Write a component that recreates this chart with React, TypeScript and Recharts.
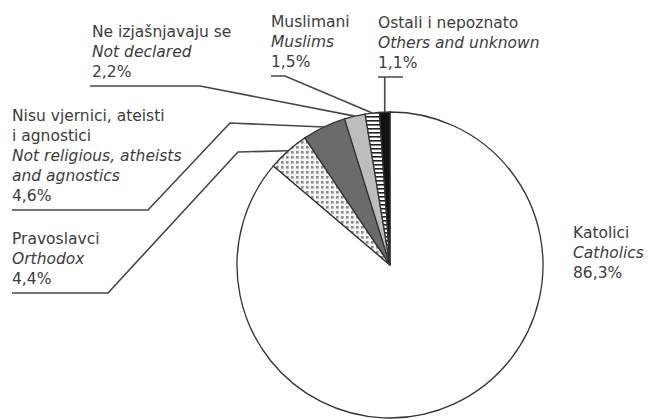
import { Cell, Pie, PieChart } from "recharts";

// Religion structure (share of population, %)
const categories = [
  "Katolici",
  "Pravoslavci",
  "Nisu vjernici, ateisti\ni agnostici",
  "Ne izjašnjavaju se",
  "Muslimani",
  "Ostali i nepoznato",
];
const categoriesEn = [
  "Catholics",
  "Orthodox",
  "Not religious, atheists\nand agnostics",
  "Not declared",
  "Muslims",
  "Others and unknown",
];
const shares = [86.3, 4.4, 4.6, 2.2, 1.5, 1.1];

const FILLS = ["#ffffff", "url(#dots)", "#6b6b6b", "#bdbdbd", "url(#stripes)", "#111111"];

const W = 651;
const H = 419;
const LH = 20;
const FONT = "'DejaVu Sans', sans-serif";
const TEXT = "#3c3c3c";
const LINE = "#474747";

// label placement: x, first baseline, underline span, optional elbow, stem = vertical leader
type Layout = {
  x: number;
  y: number;
  under?: [number, number];
  elbow?: [number, number];
  stem?: boolean;
};
const LABEL_LAYOUT: Layout[] = [
  { x: 573, y: 238 },
  { x: 12, y: 244, under: [12, 108], elbow: [238, 152] },
  { x: 12, y: 121, under: [12, 148], elbow: [230, 123] },
  { x: 92, y: 37, under: [90, 200] },
  { x: 271, y: 27, under: [271, 285] },
  { x: 378, y: 28, under: [378, 403], stem: true },
];

const data = categories.map((name, i) => ({ name, en: categoriesEn[i], value: shares[i] }));

const fmt = (v: number) => `${v.toFixed(1).replace(".", ",")}%`;

function renderLabel(props: any) {
  const { cx, cy, midAngle, outerRadius, index } = props;
  const lay = LABEL_LAYOUT[index];
  const d = data[index];
  const rad = Math.PI / 180;
  const ex = cx + outerRadius * Math.cos(-midAngle * rad);
  const ey = cy + outerRadius * Math.sin(-midAngle * rad);

  const lines: { t: string; italic: boolean }[] = [
    ...d.name.split("\n").map((t) => ({ t, italic: false })),
    ...d.en.split("\n").map((t) => ({ t, italic: true })),
    { t: fmt(d.value), italic: false },
  ];
  const lastY = lay.y + (lines.length - 1) * LH;
  const uy = lastY + 9;

  let path = "";
  if (lay.under) {
    const [u0, u1] = lay.under;
    if (lay.stem) {
      path = `M${u0},${uy} H${u1} M${ex},${uy} V${ey}`;
    } else if (lay.elbow) {
      path = `M${u0},${uy} H${u1} L${lay.elbow[0]},${lay.elbow[1]} L${ex},${ey}`;
    } else {
      path = `M${u0},${uy} H${u1} L${ex},${ey}`;
    }
  }

  return (
    <g key={`lbl-${index}`}>
      {path ? <path d={path} fill="none" stroke={LINE} strokeWidth={1.6} /> : null}
      <text x={lay.x} y={lay.y} fill={TEXT} fontFamily={FONT} fontSize={15.5}>
        {lines.map((l, i) => (
          <tspan key={i} x={lay.x} y={lay.y + i * LH} fontStyle={l.italic ? "italic" : "normal"}>
            {l.t}
          </tspan>
        ))}
      </text>
    </g>
  );
}

export default function App() {
  return (
    <div style={{ position: "absolute", left: 0, top: 0, width: W, height: H, background: "#fff" }}>
      <svg width={0} height={0} style={{ position: "absolute" }}>
        <defs>
          <pattern id="dots" width={5} height={5} patternUnits="userSpaceOnUse">
            <rect width={5} height={5} fill="#f4f4f4" />
            <rect x={1} y={1} width={2.6} height={2.6} fill="#8c8c8c" />
          </pattern>
          <pattern id="stripes" width={6} height={4} patternUnits="userSpaceOnUse">
            <rect width={6} height={4} fill="#ffffff" />
            <rect y={0} width={6} height={1.6} fill="#222" />
          </pattern>
        </defs>
      </svg>
      <PieChart width={W} height={H} margin={{ top: 0, right: 0, bottom: 0, left: 0 }}>
        <Pie
          data={data}
          dataKey="value"
          nameKey="name"
          cx={390}
          cy={265}
          outerRadius={153}
          startAngle={90}
          endAngle={-270}
          stroke="#333"
          strokeWidth={1.3}
          label={renderLabel}
          labelLine={false}
          isAnimationActive={false}
        >
          {data.map((_, i) => (
            <Cell key={i} fill={FILLS[i]} />
          ))}
        </Pie>
      </PieChart>
    </div>
  );
}
